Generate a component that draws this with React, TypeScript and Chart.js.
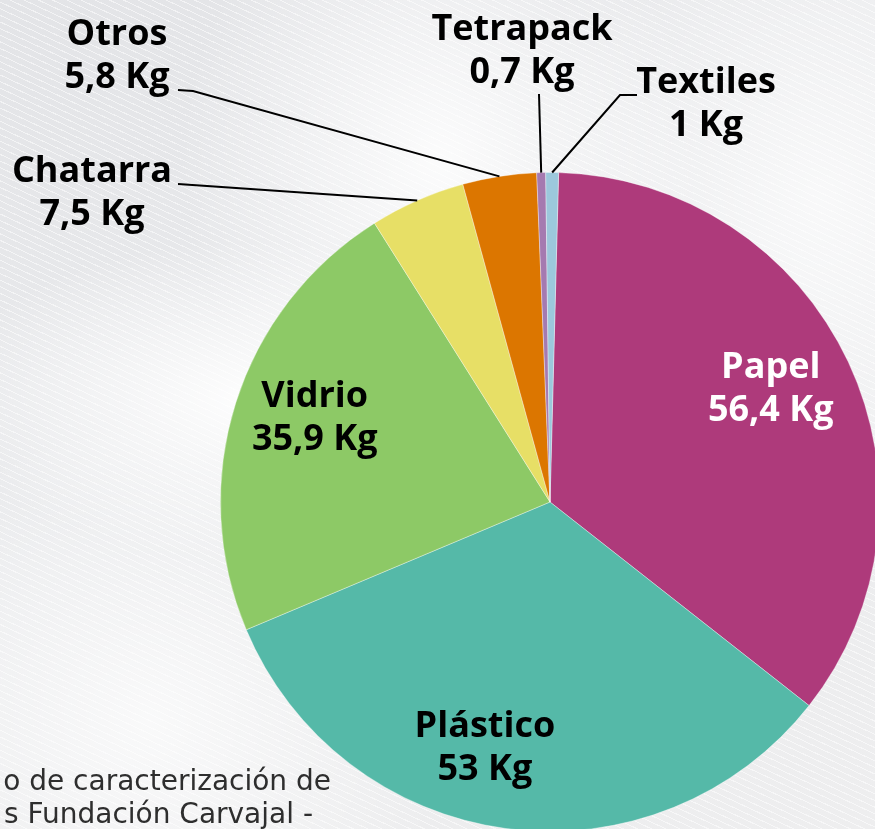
import React, { useEffect, useRef } from "react";
import { Chart, registerables } from "chart.js";

Chart.register(...registerables);

const categories = ["Papel", "Plástico", "Vidrio", "Chatarra", "Otros", "Tetrapack", "Textiles"];
const weights = [56.4, 53, 35.9, 7.5, 5.8, 0.7, 1];
const weightLabels = ["56,4 Kg", "53 Kg", "35,9 Kg", "7,5 Kg", "5,8 Kg", "0,7 Kg", "1 Kg"];
const sliceColors = ["#AE3A7B", "#55B9A8", "#8DC966", "#E7DF66", "#DC7600", "#A57AB0", "#9CC8DC"];
const sourceLines = ["o de caracterización de", "s Fundación Carvajal -"];

const FONT_BOLD = "bold 36px 'Open Sans'";
const LINE_GAP = 43;

// inside labels: angle tweak (deg) and radius factor
const insideLayout: Record<number, { dA: number; rf: number; color: string }> = {
  0: { dA: -2.3, rf: 0.755, color: "#ffffff" },
  1: { dA: 7.3, rf: 0.765, color: "#000000" },
  2: { dA: 2.5, rf: 0.76, color: "#000000" },
};

// outside labels: text center x, first baseline y, leader start points
const outsideLayout: Record<number, { x: number; y: number; pts: number[][] }> = {
  3: { x: 92, y: 182, pts: [[178, 184]] },
  4: { x: 117, y: 45, pts: [[178, 90], [193, 91]] },
  5: { x: 522, y: 40, pts: [[539, 94]] },
  6: { x: 706, y: 93, pts: [[637, 95], [620, 95]] },
};

const labelPlugin = {
  id: "labelPlugin",
  afterDraw(chart: any) {
    const ctx = chart.ctx as CanvasRenderingContext2D;
    const meta = chart.getDatasetMeta(0);
    ctx.save();
    ctx.font = FONT_BOLD;
    ctx.textAlign = "center";
    ctx.textBaseline = "alphabetic";
    meta.data.forEach((arc: any, i: number) => {
      const p = arc.getProps(["x", "y", "startAngle", "endAngle", "outerRadius"], true);
      const mid = (p.startAngle + p.endAngle) / 2;
      if (insideLayout[i]) {
        const L = insideLayout[i];
        const a = mid + (L.dA * Math.PI) / 180;
        const cx = p.x + Math.cos(a) * p.outerRadius * L.rf;
        const cy = p.y + Math.sin(a) * p.outerRadius * L.rf;
        ctx.fillStyle = L.color;
        ctx.fillText(categories[i], cx, cy - 9);
        ctx.fillText(weightLabels[i], cx, cy + 34);
      } else if (outsideLayout[i]) {
        const L = outsideLayout[i];
        ctx.fillStyle = "#000000";
        ctx.fillText(categories[i], L.x, L.y);
        ctx.fillText(weightLabels[i], L.x, L.y + LINE_GAP);
        const ex = p.x + Math.cos(mid) * p.outerRadius;
        const ey = p.y + Math.sin(mid) * p.outerRadius;
        ctx.beginPath();
        ctx.strokeStyle = "#000000";
        ctx.lineWidth = 2;
        ctx.moveTo(L.pts[0][0], L.pts[0][1]);
        for (let k = 1; k < L.pts.length; k++) ctx.lineTo(L.pts[k][0], L.pts[k][1]);
        ctx.lineTo(ex, ey);
        ctx.stroke();
      }
    });
    // source note (bottom-left)
    ctx.font = "28px 'DejaVu Sans'";
    ctx.fillStyle = "#2e2e2e";
    ctx.textAlign = "right";
    ctx.fillText(sourceLines[0], 331, 790);
    ctx.fillText(sourceLines[1], 313, 823);
    ctx.restore();
  },
};

export default function App() {
  const ref = useRef<HTMLCanvasElement | null>(null);
  useEffect(() => {
    if (!ref.current) return;
    const chart = new Chart(ref.current, {
      type: "pie",
      data: {
        labels: categories,
        datasets: [
          {
            data: weights,
            backgroundColor: sliceColors,
            borderColor: "rgba(255,255,255,0.35)",
            borderWidth: 1,
          },
        ],
      },
      options: {
        animation: false,
        responsive: false,
        devicePixelRatio: 1,
        rotation: 1.5,
        layout: { padding: { left: 220, right: 220, top: 172, bottom: 172 } },
        plugins: { legend: { display: false }, tooltip: { enabled: false } },
      } as any,
      plugins: [labelPlugin],
    });
    return () => chart.destroy();
  }, []);

  const bg = [
    "repeating-linear-gradient(25deg, rgba(255,255,255,0) 0px, rgba(255,255,255,0) 5px, rgba(255,255,255,0.55) 5px, rgba(255,255,255,0.55) 6px)",
    "radial-gradient(ellipse 320px 160px at 260px 400px, rgba(255,255,255,0.95), rgba(255,255,255,0) 100%)",
    "radial-gradient(ellipse 260px 300px at 440px 160px, rgba(255,255,255,0.85), rgba(255,255,255,0) 100%)",
    "radial-gradient(ellipse 300px 400px at 820px 200px, rgba(255,255,255,0.7), rgba(255,255,255,0) 100%)",
    "radial-gradient(ellipse 300px 300px at 150px 720px, rgba(255,255,255,0.7), rgba(255,255,255,0) 100%)",
    "linear-gradient(160deg, #e3e4e7 0%, #eaebed 50%, #eeeeef 100%)",
  ].join(",");

  return (
    <div
      style={{
        position: "fixed",
        left: 0,
        top: 0,
        width: 875,
        height: 829,
        overflow: "hidden",
        background: bg,
      }}
    >
      <canvas
        ref={ref}
        width={1100}
        height={1004}
        style={{ position: "absolute", left: 0, top: 0, width: 1100, height: 1004 }}
      />
    </div>
  );
}
